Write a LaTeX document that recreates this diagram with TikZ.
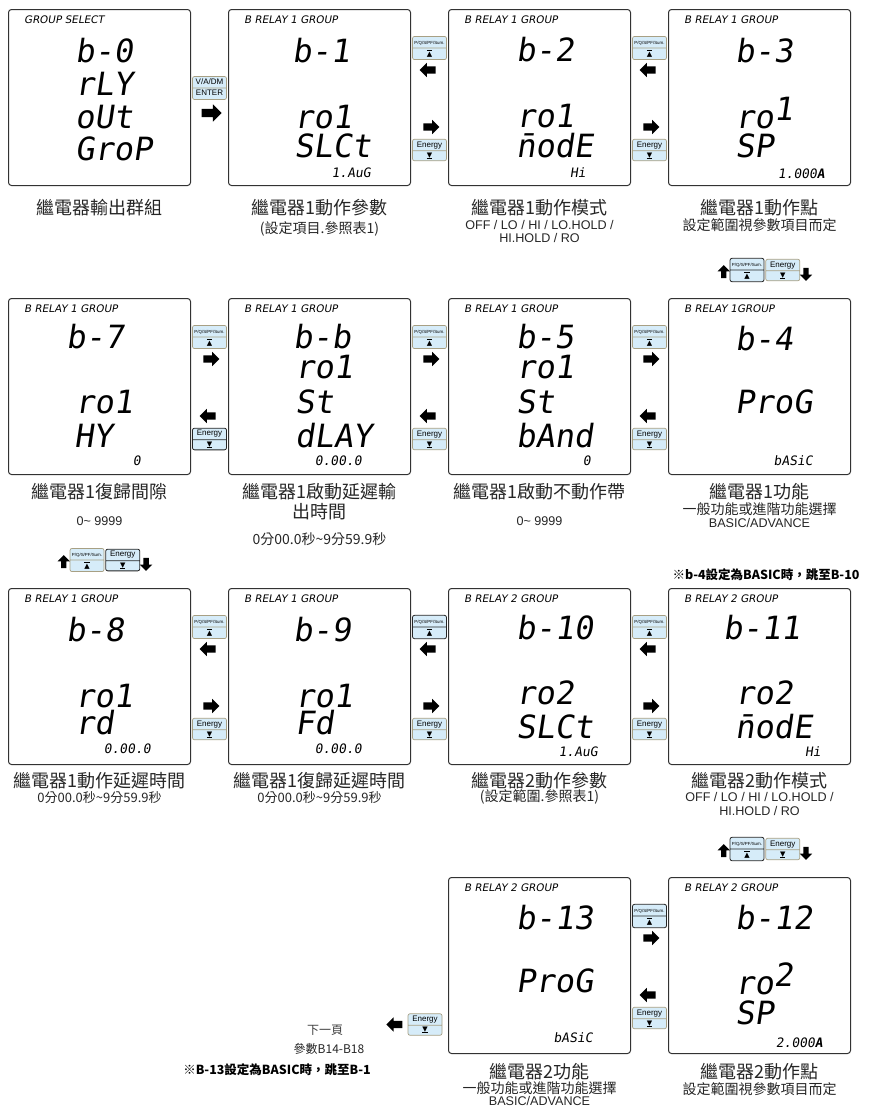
\documentclass[tikz,border=0pt]{standalone}
\usepackage{fontspec}
\setmainfont{Liberation Sans}
\newfontfamily\cjk{Noto Sans CJK TC}
\newfontfamily\lcdf{DejaVu Sans Mono}[FakeSlant=0.15]
\newfontfamily\hdrf{DejaVu Sans}[FakeSlant=0.18]
\newfontfamily\symf{DejaVu Sans}
\usepackage{tikz}
\usetikzlibrary{positioning, shapes.arrows, shapes.multipart, calc}

\definecolor{keyfill}{RGB}{214,236,249}
\definecolor{keyline}{RGB}{168,160,132}
\definecolor{frame}{RGB}{50,50,50}

% key faces
\newcommand{\kstrut}{\rule[-1.8pt]{0pt}{7.6pt}}
\newcommand{\upsym}{{\symf\fontsize{7}{7}\selectfont\makebox[0pt][l]{\raisebox{6pt}{\rule{5.4pt}{0.9pt}}}\char"25B2}}
\newcommand{\dnsym}{{\symf\fontsize{7}{7}\selectfont\makebox[0pt][l]{\raisebox{-1.6pt}{\rule{5.4pt}{0.9pt}}}\char"25BC}}
\newcommand{\pqkey}{\kstrut{\fontsize{4.4}{5}\selectfont P/Q/S/PF/Sum.}\nodepart{two}\upsym}
\newcommand{\enkey}{\kstrut Energy\nodepart{two}\dnsym}

\begin{document}
\begin{tikzpicture}[
    x=1pt, y=-1pt,
    panel/.style={rectangle, draw=frame, line width=1pt, rounded corners=3pt, minimum width=182pt, minimum height=176pt, inner sep=0pt, fill=white},
    hdr/.style={anchor=base west, inner sep=0pt, font=\hdrf\fontsize{10.4}{11}\selectfont},
    lcd/.style={anchor=base west, inner sep=0pt, font=\lcdf\fontsize{32}{32}\selectfont},
    lcdv/.style={anchor=base east, inner sep=0pt, font=\lcdf\fontsize{13}{13}\selectfont},
    keybox/.style={rectangle split, rectangle split parts=2, draw=keyline, fill=keyfill, rounded corners=2pt, line width=0.7pt, text width=32pt, align=center, inner xsep=1pt, inner ysep=1.6pt, font=\fontsize{8}{9}\selectfont},
    keyon/.style={draw=black!85, line width=0.8pt},
    keyoff/.style={},
    blkarrow/.style={single arrow, fill=black, inner sep=3.5pt, single arrow head extend=3.5pt, minimum height=16pt},
    minarrow/.style={blkarrow, inner sep=2.5pt, minimum height=13pt},
    capt/.style={font=\cjk\fontsize{18}{20}\selectfont, inner sep=0pt, text=black!85},
    subt/.style={font=\cjk\fontsize{14}{16}\selectfont, inner sep=0pt, text=black!85},
    subn/.style={font=\cjk\fontsize{13}{15}\selectfont, inner sep=0pt, text=black!85},
    latn/.style={font=\fontsize{12.6}{15}\selectfont, inner sep=0pt, text=black!85},
    notb/.style={font=\cjk\bfseries\fontsize{12.5}{14}\selectfont, inner sep=0pt}
]
    \fill[white] (0,0) rectangle (870,1106);
    \useasboundingbox (0,0) rectangle (870,1106);

    % Panels
    \node[panel] (b0) at (99.5,97.5) {};
    \node[panel, right=37pt of b0] (b1) {};
    \node[panel, right=37pt of b1] (b2) {};
    \node[panel, right=37pt of b2] (b3) {};
    \node[panel, below=112pt of b3] (b4) {};
    \node[panel, left=37pt of b4] (b5) {};
    \node[panel, left=37pt of b5] (bb) {};
    \node[panel, left=37pt of bb] (b7) {};
    \node[panel, below=113pt of b7] (b8) {};
    \node[panel, right=37pt of b8] (b9) {};
    \node[panel, right=37pt of b9] (b10) {};
    \node[panel, right=37pt of b10] (b11) {};
    \node[panel, below=112pt of b11] (b12) {};
    \node[panel, left=37pt of b12] (b13) {};

    % Headers
    \foreach \p/\h in {b0/GROUP SELECT, b1/B RELAY 1 GROUP, b2/B RELAY 1 GROUP, b3/B RELAY 1 GROUP,
        b7/B RELAY 1 GROUP, bb/B RELAY 1 GROUP, b5/B RELAY 1 GROUP, b4/B RELAY 1GROUP,
        b8/B RELAY 1 GROUP, b9/B RELAY 1 GROUP, b10/B RELAY 2 GROUP, b11/B RELAY 2 GROUP,
        b13/B RELAY 2 GROUP, b12/B RELAY 2 GROUP}
        \node[hdr] (\p-hdr) at ($(\p.north west)+(16,14)$) {\h};

    % LCD lines
    \foreach \p/\dx/\dy/\t [count=\i] in {
        b0/67/53/b-0, b0/67/86/rLY, b0/67/119/oUt, b0/67/151/GroP,
        b1/64/53/b-1, b1/66/119/ro1, b1/66/148/SLCt,
        b2/68/52/b-2, b2/68/118/ro1, b2/68/148/{\=nodE},
        b3/67/53/b-3, b3/67/119/{ro\raisebox{8pt}{1}}, b3/67/148/SP,
        b7/58/50/b-7, b7/67/115/ro1, b7/66/149/HY,
        bb/65/50/b-b, bb/67/80/ro1, bb/67/115/St, bb/67/149/dLAY,
        b5/68/50/b-5, b5/68/80/ro1, b5/68/115/St, b5/68/149/bAnd,
        b4/67/52/b-4, b4/67/115/ProG,
        b8/58/53/b-8, b8/67/119/ro1, b8/67/146/rd,
        b9/65/53/b-9, b9/67/119/ro1, b9/67/146/Fd,
        b10/68/51/b-10, b10/68/116/ro2, b10/68/150/SLCt,
        b11/55/51/b-11, b11/67/116/ro2, b11/67/150/{\=nodE},
        b13/68/52/b-13, b13/68/115/ProG,
        b12/67/52/b-12, b12/67/117/{ro\raisebox{8pt}{2}}, b12/67/147/SP}
        \node[lcd] (lcd\i) at ($(\p.north west)+(\dx,\dy)$) {\t};

    % LCD values
    \foreach \p/\dx/\dy/\t [count=\i] in {
        b1/143/168/1.AuG, b2/138/168/Hi, b3/157/169/{1.000\textbf{A}},
        b7/133/167/0, bb/134/167/0.00.0, b5/143/167/0, b4/145/167/bASiC,
        b8/143/165/0.00.0, b9/134/165/0.00.0, b10/150/168/1.AuG, b11/153/168/Hi,
        b13/145/165/bASiC, b12/155/170/{2.000\textbf{A}}}
        \node[lcdv] (val\i) at ($(\p.north west)+(\dx,\dy)$) {\t};

    % Captions
    \foreach \p/\dy/\s/\t [count=\i] in {
        b0/21.5/capt/繼電器輸出群組,
        b1/21.5/capt/繼電器1動作參數, b1/42.5/subt/(設定項目.參照表1),
        b2/21.5/capt/繼電器1動作模式, b2/38.5/latn/{OFF / LO / HI / LO.HOLD /}, b2/51.5/latn/{HI.HOLD / RO},
        b3/21.5/capt/繼電器1動作點, b3/39/subt/設定範圍視參數項目而定,
        b7/16.5/capt/繼電器1復歸間隙, b7/46.5/latn/0\textasciitilde\ 9999,
        bb/16.5/capt/繼電器1啟動延遲輸, bb/36.5/capt/出時間, bb/64.5/subt/0分00.0秒\textasciitilde 9分59.9秒,
        b5/16.5/capt/繼電器1啟動不動作帶, b5/46.5/latn/0\textasciitilde\ 9999,
        b4/16.5/capt/繼電器1功能, b4/34.5/subt/一般功能或進階功能選擇, b4/48/latn/{BASIC/ADVANCE},
        b8/15.5/capt/繼電器1動作延遲時間, b8/33/subn/0分00.0秒\textasciitilde 9分59.9秒,
        b9/15.5/capt/繼電器1復歸延遲時間, b9/33/subn/0分00.0秒\textasciitilde 9分59.9秒,
        b10/15.5/capt/繼電器2動作參數, b10/31.5/subt/(設定範圍.參照表1),
        b11/15.5/capt/繼電器2動作模式, b11/32/latn/{OFF / LO / HI / LO.HOLD /}, b11/46/latn/{HI.HOLD / RO},
        b13/18/capt/繼電器2功能, b13/34.5/subt/一般功能或進階功能選擇, b13/47/latn/{BASIC/ADVANCE},
        b12/18/capt/繼電器2動作點, b12/35/subt/設定範圍視參數項目而定}
        \node[\s] (cap\i) at ($(\p.south)+(0,\dy)$) {\t};

    % Enter key
    \coordinate (g0) at ($(b0.north east)!.5!(b1.north west)$);
    \node[keybox] (ent) at ($(g0)+(0,79)$) {\kstrut V/A/DM\nodepart{two}\kstrut ENTER};
    \node[blkarrow, inner sep=4pt, single arrow head extend=4.5pt, minimum height=20pt] (entarr) at ($(g0)+(0,104)$) {};

    % Keys between panels
    \foreach \pa/\pb/\da/\db/\ka/\kb [count=\i] in {
        b1/b2/180/0/keyoff/keyoff, b2/b3/180/0/keyoff/keyoff,
        b7/bb/0/180/keyoff/keyon, bb/b5/0/180/keyoff/keyoff, b5/b4/0/180/keyoff/keyoff,
        b8/b9/180/0/keyoff/keyoff, b9/b10/180/0/keyon/keyoff, b10/b11/180/0/keyoff/keyoff,
        b13/b12/0/180/keyon/keyoff}
    {
        \coordinate (g\i) at ($(\pa.north east)!.5!(\pb.north west)$);
        \node[keybox, \ka] (pq\i) at ($(g\i)+(0,39)$) {\pqkey};
        \node[blkarrow, shape border rotate=\da] (ua\i) at ($(g\i)+(0,61)$) {};
        \node[blkarrow, shape border rotate=\db] (da\i) at ($(g\i)+(0,118)$) {};
        \node[keybox, \kb] (en\i) at ($(g\i)+(0,141)$) {\enkey};
    }

    % Key pairs at row turns
    \foreach \p/\ka/\kb in {b4/keyon/keyoff, b8/keyoff/keyon, b12/keyon/keyoff}
    {
        \node[keybox, \ka] (\p-pq) at ($(\p.north west)+(79,-28)$) {\pqkey};
        \node[keybox, \kb, right=1pt of \p-pq] (\p-en) {\enkey};
        \node[minarrow, shape border rotate=90, left=3pt of \p-pq, yshift=-3pt] (\p-up) {};
        \node[minarrow, shape border rotate=270, right=3pt of \p-en, yshift=-3pt] (\p-dn) {};
    }

    % Next page
    \node[keybox] (en0) at ($(b13.north west)+(-23,147.5)$) {\enkey};
    \node[blkarrow, shape border rotate=180, left=5pt of en0] (nxarr) {};
    \node[subn, font=\cjk\fontsize{12}{14}\selectfont, text=black!75] (nx1) at (325,1030) {下一頁};
    \node[subn, font=\cjk\fontsize{12}{14}\selectfont] (nx2) at (329,1049) {參數B14-B18};

    % Notes
    \node[notb] (note1) at (766,575) {※b-4設定為BASIC時，跳至B-10};
    \node[notb] (note2) at (277,1070) {※B-13設定為BASIC時，跳至B-1};
\end{tikzpicture}
\end{document}
